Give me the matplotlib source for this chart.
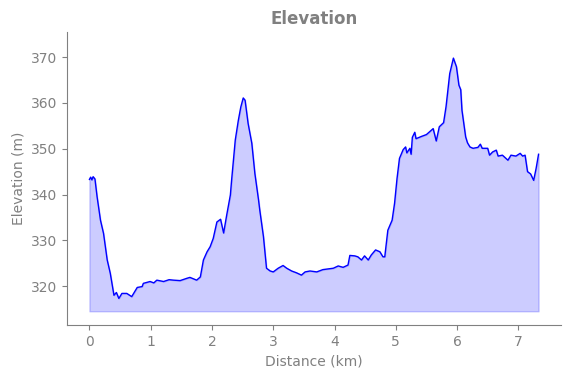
import matplotlib
matplotlib.use("Agg")
import matplotlib.pyplot as plt

# distance (km) and elevation (m)
distance_km = [
    0.00, 0.02, 0.04, 0.06, 0.09, 0.125, 0.18, 0.23, 0.29, 0.34, 0.40, 0.44,
    0.48, 0.53, 0.61, 0.69, 0.78, 0.86, 0.88, 0.99, 1.05, 1.10, 1.21, 1.30,
    1.37, 1.48, 1.59, 1.64, 1.75, 1.81, 1.86, 1.92, 1.97, 2.02, 2.08, 2.14,
    2.19, 2.24, 2.30, 2.32, 2.38, 2.43, 2.47, 2.51, 2.54, 2.59, 2.65, 2.70,
    2.76, 2.78, 2.84, 2.89, 2.95, 3.00, 3.08, 3.16, 3.22, 3.30, 3.38, 3.46,
    3.52, 3.60, 3.71, 3.81, 3.98, 4.06, 4.14, 4.22, 4.25, 4.33, 4.38, 4.44,
    4.49, 4.55, 4.60, 4.67, 4.74, 4.79, 4.82, 4.87, 4.94, 4.98, 5.02, 5.06,
    5.12, 5.16, 5.18, 5.23, 5.25, 5.27, 5.31, 5.33, 5.42, 5.50, 5.55, 5.61,
    5.66, 5.71, 5.78, 5.82, 5.88, 5.94, 5.99, 6.03, 6.06, 6.08, 6.14, 6.17,
    6.21, 6.26, 6.34, 6.38, 6.41, 6.50, 6.53, 6.58, 6.64, 6.67, 6.74, 6.83,
    6.88, 6.96, 7.03, 7.07, 7.11, 7.15, 7.20, 7.25, 7.29, 7.33,
]
elevation_m = [
    343.3, 343.8, 343.2, 343.9, 343.4, 339.5, 334.4, 331.5, 325.7, 322.8, 318.0, 318.6,
    317.3, 318.4, 318.4, 317.7, 319.7, 319.9, 320.6, 321.0, 320.7, 321.3, 321.0, 321.4,
    321.3, 321.2, 321.7, 321.9, 321.3, 322.0, 325.7, 327.5, 328.6, 330.4, 334.0, 334.6,
    331.6, 335.5, 339.9, 343.1, 351.9, 356.2, 359.1, 361.1, 360.6, 355.5, 351.2, 344.6,
    338.8, 336.6, 330.8, 323.9, 323.3, 323.1, 323.9, 324.5, 323.9, 323.3, 322.9, 322.4,
    323.1, 323.3, 323.1, 323.6, 323.9, 324.4, 324.1, 324.6, 326.7, 326.6, 326.4, 325.7,
    326.6, 325.7, 326.8, 327.9, 327.5, 326.4, 326.4, 332.2, 334.4, 338.1, 343.5, 347.9,
    349.8, 350.4, 349.1, 350.1, 348.8, 352.5, 353.6, 352.2, 352.7, 353.1, 353.7, 354.4,
    351.7, 354.8, 355.7, 359.2, 366.4, 369.8, 367.9, 363.9, 362.9, 358.4, 352.6, 351.3,
    350.4, 350.1, 350.3, 351.0, 350.1, 350.1, 348.6, 349.3, 349.7, 348.4, 348.6, 347.5,
    348.6, 348.4, 349.0, 348.4, 348.6, 345.0, 344.5, 343.1, 345.7, 348.8,
]
fill_floor = 314.5

fig = plt.figure(figsize=(5.71, 3.78), dpi=100)
ax = fig.add_axes([0.1173, 0.1402, 0.8652, 0.7751])

ax.plot(distance_km, elevation_m, color="blue", linewidth=1)
ax.fill_between(distance_km, elevation_m, fill_floor, color="blue", alpha=0.2)

ax.set_ylim(311.5, 375.5)
ax.set_yticks([320, 330, 340, 350, 360, 370])
ax.set_xticks(range(8))

ax.set_title("Elevation", fontsize=12, fontweight="bold", color="gray")
ax.set_xlabel("Distance (km)", color="gray")
ax.set_ylabel("Elevation (m)", color="gray")

for side in ["top", "right"]:
    ax.spines[side].set_visible(False)
for side in ["left", "bottom"]:
    ax.spines[side].set_color("gray")
ax.tick_params(colors="gray")

fig.savefig("out.png", dpi=100)
